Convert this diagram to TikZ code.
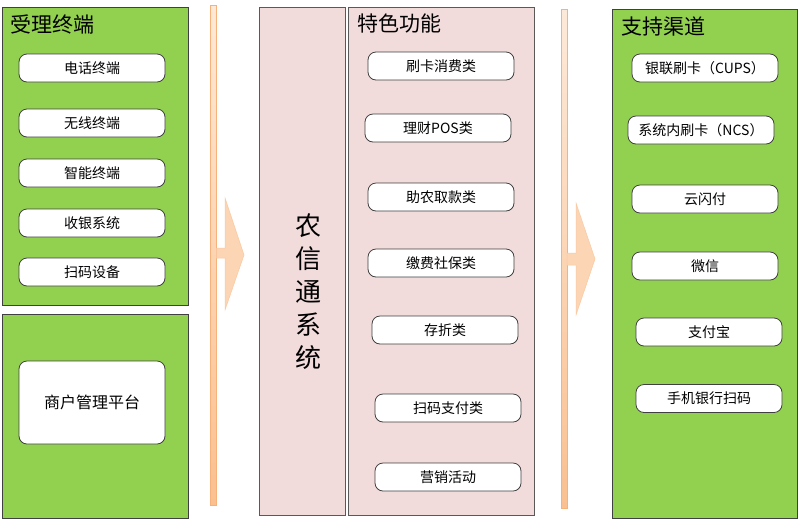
\documentclass[tikz,border=0pt]{standalone}
\usepackage{fontspec}
\setmainfont{Noto Sans CJK SC}
\newfontfamily\cjk{Noto Sans CJK SC}
\begin{document}
\begin{tikzpicture}[x=1pt,y=-1pt,
  greenpanel/.style={draw=black!75,line width=0.8pt,fill=panelgreen},
  pinkpanel/.style={draw=black!65,line width=0.8pt,fill=panelpink},
  itembox/.style={draw=black!75,line width=0.8pt,fill=white,rounded corners=8pt,
    minimum width=146pt,minimum height=28pt,inner sep=0pt,font=\cjk\fontsize{14}{16}\selectfont},
  paneltitle/.style={anchor=west,inner sep=0pt,font=\cjk\fontsize{21}{24}\selectfont},
  arrowbar/.style={draw=arrowedge,line width=0.6pt,top color=arrowtop,bottom color=arrowbottom},
  arrowhead/.style={draw=arrowedge!70,line width=0.5pt,fill=arrowfill}
]
\definecolor{panelgreen}{HTML}{92D050}
\definecolor{panelpink}{HTML}{F2DCDB}
\definecolor{arrowtop}{HTML}{FDE9D9}
\definecolor{arrowbottom}{HTML}{FAC090}
\definecolor{arrowedge}{HTML}{F7B27C}
\definecolor{arrowfill}{HTML}{FCD5B4}
\useasboundingbox (0,0) rectangle (800,523);

% left panels
\draw[greenpanel] (2,7) rectangle (188,305);
\node[paneltitle] (t1) at (10,24) {受理终端};
\node[itembox] (a1) at (92,68) {电话终端};
\node[itembox] (a2) at (92,123) {无线终端};
\node[itembox] (a3) at (92,173) {智能终端};
\node[itembox] (a4) at (92,223) {收银系统};
\node[itembox] (a5) at (92,272) {扫码设备};
\draw[greenpanel] (2,314) rectangle (188,518);
\node[itembox,minimum height=83pt,font=\cjk\fontsize{16}{18}\selectfont] (m1) at (92,402.5) {商户管理平台};

% arrow 1
\draw[arrowbar] (210.5,5) rectangle (216.5,505);
\draw[arrowhead] (216.5,248) -- (225,248) -- (225,198) -- (244,255) -- (225,310) -- (225,258) -- (216.5,258) -- cycle;

% middle panels
\draw[pinkpanel] (259,7) rectangle (345,515);
\node[inner sep=0pt,align=center,font=\cjk\fontsize{26}{33}\selectfont] (sys) at (308,292) {农\\信\\通\\系\\统};
\draw[pinkpanel] (348,7) rectangle (534,515);
\node[paneltitle] (t2) at (357,23) {特色功能};
\node[itembox] (b1) at (441,66) {刷卡消费类};
\node[itembox] (b2) at (438,128) {理财POS类};
\node[itembox] (b3) at (441,197) {助农取款类};
\node[itembox] (b4) at (441,263) {缴费社保类};
\node[itembox] (b5) at (445,330) {存折类};
\node[itembox] (b6) at (448,408) {扫码支付类};
\node[itembox] (b7) at (448,477) {营销活动};

% arrow 2
\draw[arrowbar] (561,9) rectangle (567,508);
\draw[arrowhead] (567,253) -- (576,253) -- (576,203) -- (595,259) -- (576,315) -- (576,265) -- (567,265) -- cycle;

% right panel
\draw[greenpanel] (612,9) rectangle (797,518);
\node[paneltitle] (t3) at (621,26) {支持渠道};
\node[itembox] (c1) at (705,68) {银联刷卡（CUPS）};
\node[itembox] (c2) at (701,130) {系统内刷卡（NCS）};
\node[itembox] (c3) at (705,199) {云闪付};
\node[itembox] (c4) at (705,266) {微信};
\node[itembox] (c5) at (709,332) {支付宝};
\node[itembox] (c6) at (709,398.5) {手机银行扫码};
\end{tikzpicture}
\end{document}
